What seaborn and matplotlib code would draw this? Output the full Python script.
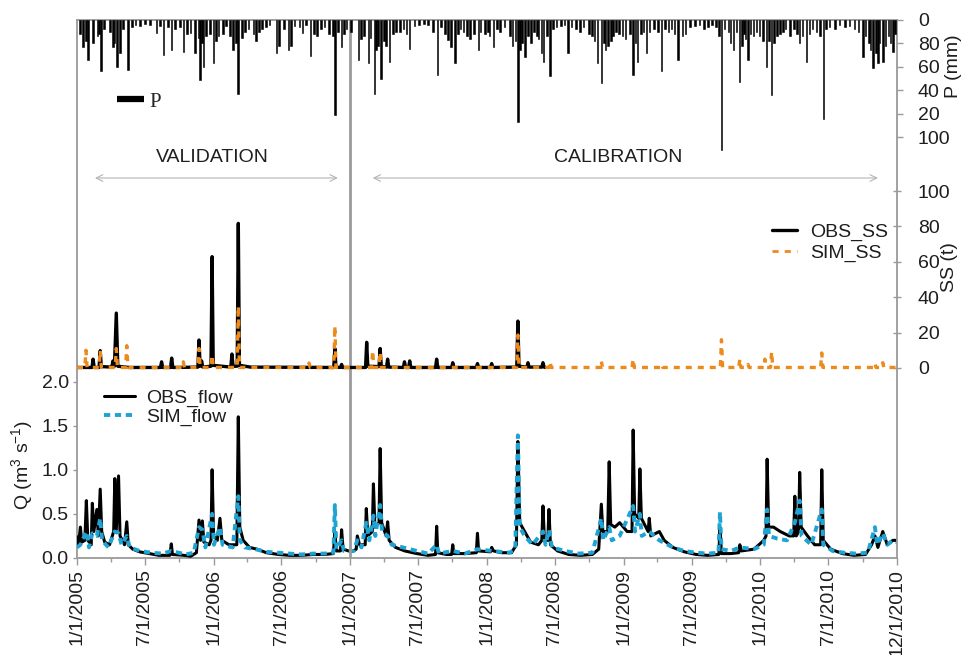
import pandas as pd
import matplotlib
matplotlib.use("Agg")
import matplotlib.pyplot as plt
import matplotlib.dates as mdates
from matplotlib.lines import Line2D
import seaborn as sns

# ---------------- data ----------------
# daily precipitation (mm)
p_dates = [
    "2005-01-09", "2005-01-17", "2005-01-25", "2005-01-30", "2005-02-13", "2005-02-24", "2005-03-01",
    "2005-03-06", "2005-03-14", "2005-03-30", "2005-04-07", "2005-04-12", "2005-04-18", "2005-04-26",
    "2005-05-04", "2005-05-17", "2005-05-28", "2005-06-07", "2005-06-18", "2005-07-02", "2005-07-15",
    "2005-08-02", "2005-08-11", "2005-08-21", "2005-09-01", "2005-09-11", "2005-09-20", "2005-10-03",
    "2005-10-12", "2005-10-22", "2005-11-01", "2005-11-12", "2005-11-21", "2005-11-26", "2005-12-01",
    "2005-12-05", "2005-12-12", "2005-12-22", "2005-12-31", "2006-01-07", "2006-01-15", "2006-01-26",
    "2006-02-03", "2006-02-14", "2006-02-22", "2006-03-02", "2006-03-07", "2006-03-18", "2006-03-26",
    "2006-04-05", "2006-04-17", "2006-04-24", "2006-05-02", "2006-05-10", "2006-05-21", "2006-05-31",
    "2006-06-18", "2006-06-25", "2006-07-08", "2006-07-20", "2006-07-27", "2006-08-06", "2006-08-19",
    "2006-08-27", "2006-09-05", "2006-09-16", "2006-09-26", "2006-10-04", "2006-10-15", "2006-10-25",
    "2006-11-05", "2006-11-16", "2006-11-21", "2006-11-29", "2006-12-09", "2006-12-15", "2006-12-23",
    "2007-01-03", "2007-01-23", "2007-01-30", "2007-02-07", "2007-02-18", "2007-02-25", "2007-03-06",
    "2007-03-11", "2007-03-16", "2007-03-24", "2007-04-01", "2007-04-07", "2007-04-16", "2007-04-25",
    "2007-05-03", "2007-05-14", "2007-05-24", "2007-06-01", "2007-06-09", "2007-06-21", "2007-07-04",
    "2007-07-17", "2007-07-28", "2007-08-10", "2007-08-22", "2007-09-01", "2007-09-11", "2007-09-19",
    "2007-09-27", "2007-10-08", "2007-10-16", "2007-10-23", "2007-10-31", "2007-11-09", "2007-11-17",
    "2007-11-28", "2007-12-09", "2007-12-16", "2007-12-27", "2008-01-04", "2008-01-09", "2008-01-19",
    "2008-01-28", "2008-02-05", "2008-02-18", "2008-03-03", "2008-03-10", "2008-03-18", "2008-03-24",
    "2008-03-30", "2008-04-04", "2008-04-12", "2008-04-20", "2008-04-28", "2008-05-06", "2008-05-14",
    "2008-05-19", "2008-05-26", "2008-06-01", "2008-06-10", "2008-06-18", "2008-06-26", "2008-07-06",
    "2008-07-17", "2008-07-27", "2008-08-05", "2008-08-15", "2008-08-26", "2008-09-06", "2008-09-16",
    "2008-09-30", "2008-10-08", "2008-10-15", "2008-10-23", "2008-11-03", "2008-11-09", "2008-11-14",
    "2008-11-20", "2008-11-28", "2008-12-03", "2008-12-11", "2008-12-19", "2008-12-29", "2009-01-06",
    "2009-01-18", "2009-01-26", "2009-02-02", "2009-02-07", "2009-02-16", "2009-02-23", "2009-03-03",
    "2009-03-11", "2009-03-23", "2009-04-02", "2009-04-12", "2009-04-21", "2009-05-01", "2009-05-09",
    "2009-05-17", "2009-05-26", "2009-06-06", "2009-06-14", "2009-06-27", "2009-07-10", "2009-07-23",
    "2009-08-03", "2009-08-14", "2009-08-25", "2009-09-04", "2009-09-12", "2009-09-19", "2009-09-28",
    "2009-10-08", "2009-10-14", "2009-10-21", "2009-10-30", "2009-11-07", "2009-11-13", "2009-11-18",
    "2009-11-23", "2009-11-29", "2009-12-06", "2009-12-14", "2009-12-22", "2009-12-30", "2010-01-08",
    "2010-01-18", "2010-01-24", "2010-01-31", "2010-02-06", "2010-02-14", "2010-02-22", "2010-03-02",
    "2010-03-09", "2010-03-21", "2010-04-01", "2010-04-09", "2010-04-16", "2010-04-24", "2010-05-04",
    "2010-05-13", "2010-05-21", "2010-05-30", "2010-06-09", "2010-06-18", "2010-06-25", "2010-07-05",
    "2010-07-19", "2010-08-01", "2010-08-15", "2010-08-28", "2010-09-10", "2010-09-21", "2010-10-02",
    "2010-10-09", "2010-10-18", "2010-10-23", "2010-10-29", "2010-11-06", "2010-11-11", "2010-11-16",
    "2010-11-25", "2010-12-02", "2010-12-10", "2010-12-15", "2010-12-21", "2010-12-27",
]
p_mm = [
    12, 23, 18, 34, 20, 14, 12,
    44, 8, 10, 23, 20, 40, 28,
    8, 43, 6, 4, 5, 3, 4,
    11, 5, 30, 6, 26, 8, 6,
    27, 12, 11, 28, 15, 51, 20,
    40, 14, 12, 37, 18, 14, 12,
    5, 14, 26, 20, 63, 15, 10,
    8, 12, 18, 10, 8, 6, 4,
    28, 22, 8, 26, 22, 5, 6,
    11, 4, 31, 12, 14, 8, 6,
    12, 14, 81, 10, 23, 12, 8,
    10, 34, 16, 14, 37, 15, 63,
    26, 22, 50, 18, 22, 36, 12,
    10, 10, 8, 12, 25, 5, 4,
    3, 4, 10, 47, 6, 12, 17,
    23, 37, 12, 8, 10, 14, 16,
    12, 26, 10, 12, 10, 14, 23,
    8, 10, 6, 14, 22, 18, 87,
    26, 20, 32, 14, 20, 10, 14,
    16, 28, 36, 14, 48, 8, 6,
    5, 4, 28, 6, 8, 10, 6,
    12, 14, 18, 37, 54, 20, 26,
    22, 18, 14, 10, 12, 14, 16,
    12, 47, 20, 36, 12, 10, 28,
    10, 8, 10, 44, 8, 10, 8,
    12, 34, 14, 12, 6, 5, 4,
    8, 6, 4, 6, 14, 111, 8,
    10, 20, 26, 10, 53, 22, 12,
    16, 34, 12, 14, 10, 14, 18,
    40, 18, 64, 20, 14, 12, 10,
    8, 14, 8, 12, 20, 14, 36,
    12, 8, 10, 14, 85, 8, 6,
    8, 4, 6, 5, 8, 10, 32,
    14, 20, 26, 41, 28, 37, 20,
    36, 22, 14, 20, 27, 12,
]

# suspended sediment (t)
ss_obs_dates = [
    "2005-01-01", "2005-02-10", "2005-02-13", "2005-02-16", "2005-03-01", "2005-03-04", "2005-03-07",
    "2005-04-04", "2005-04-07", "2005-04-11", "2005-04-16", "2005-04-20", "2005-05-20", "2005-08-12",
    "2005-08-15", "2005-08-18", "2005-09-08", "2005-09-11", "2005-09-14", "2005-11-20", "2005-11-23",
    "2005-11-26", "2005-11-30", "2005-12-03", "2005-12-25", "2005-12-28", "2005-12-31", "2006-02-16",
    "2006-02-19", "2006-02-22", "2006-03-05", "2006-03-08", "2006-03-11", "2006-04-10", "2006-11-18",
    "2006-11-21", "2006-11-24", "2006-12-06", "2006-12-09", "2006-12-12", "2007-02-11", "2007-02-14",
    "2007-02-17", "2007-03-19", "2007-03-22", "2007-03-25", "2007-04-08", "2007-04-11", "2007-04-14",
    "2007-05-23", "2007-05-26", "2007-05-29", "2007-06-06", "2007-06-09", "2007-06-12", "2007-08-17",
    "2007-08-20", "2007-08-23", "2007-09-29", "2007-10-02", "2007-10-05", "2007-12-04", "2007-12-07",
    "2007-12-10", "2008-01-11", "2008-01-14", "2008-01-17", "2008-03-21", "2008-03-24", "2008-03-27",
    "2008-04-17", "2008-04-20", "2008-04-23", "2008-05-27", "2008-05-30", "2008-06-02", "2008-06-05",
]
ss_obs_t = [
    0.3, 0.3, 5, 0.3, 0.3, 9.8, 0.8,
    0.5, 4, 1, 31, 1, 0.3, 0.3,
    3.5, 0.3, 0.3, 5.6, 0.3, 0.5, 15.8,
    1, 4, 0.5, 1, 62.9, 1.5, 0.5,
    7.9, 1, 1, 81.7, 1.5, 0.5, 0.3,
    11, 0.5, 0.3, 2, 0.3, 0.3, 14.5,
    1, 0.8, 11, 1, 0.5, 5, 0.5,
    0.3, 3.5, 0.3, 0.3, 4, 0.3, 0.3,
    5, 0.3, 0.3, 3, 0.3, 0.3, 2.5,
    0.3, 0.3, 2.5, 0.3, 0.5, 26.5, 1,
    0.5, 3, 0.5, 0.5, 3, 0.5, 0.3,
]
ss_sim_dates = [
    "2005-01-01", "2005-01-22", "2005-01-25", "2005-01-28", "2005-03-01", "2005-03-04", "2005-03-07",
    "2005-04-13", "2005-04-16", "2005-04-19", "2005-05-11", "2005-05-14", "2005-05-17", "2005-10-09",
    "2005-10-12", "2005-10-15", "2005-11-20", "2005-11-23", "2005-11-26", "2005-12-25", "2005-12-28",
    "2005-12-31", "2006-03-05", "2006-03-08", "2006-03-11", "2006-09-10", "2006-09-13", "2006-09-16",
    "2006-11-18", "2006-11-21", "2006-11-24", "2007-02-27", "2007-03-02", "2007-03-05", "2007-03-19",
    "2007-03-22", "2007-03-25", "2008-03-21", "2008-03-24", "2008-03-27", "2008-06-15", "2008-06-18",
    "2008-06-21", "2008-10-30", "2008-11-02", "2008-11-05", "2009-01-23", "2009-01-26", "2009-01-29",
    "2009-04-09", "2009-04-12", "2009-04-15", "2009-09-16", "2009-09-19", "2009-09-22", "2009-11-04",
    "2009-11-07", "2009-11-10", "2009-11-26", "2009-11-29", "2009-12-02", "2010-01-10", "2010-01-13",
    "2010-01-16", "2010-01-28", "2010-01-31", "2010-02-03", "2010-06-11", "2010-06-14", "2010-06-17",
    "2010-10-31", "2010-11-03", "2010-11-06", "2010-11-21", "2010-11-24", "2010-11-27", "2010-12-31",
]
ss_sim_t = [
    0.3, 0.3, 10, 0.3, 0.3, 10, 0.3,
    0.3, 11, 0.3, 0.3, 12.6, 0.3, 0.3,
    3.5, 0.3, 0.3, 11, 0.3, 0.3, 7.3,
    0.3, 0.3, 35, 0.3, 0.3, 2.8, 0.3,
    0.3, 23.7, 0.3, 0.3, 9.8, 0.3, 0.3,
    9, 0.3, 0.3, 18.6, 0.3, 0.3, 3.6,
    0.3, 0.3, 4, 0.3, 0.3, 5, 0.3,
    0.3, 2, 0.3, 0.3, 16, 0.3, 0.3,
    5, 0.3, 0.3, 2, 0.3, 0.3, 5,
    0.3, 0.3, 9.2, 0.3, 0.3, 8.5, 0.3,
    0.3, 2.5, 0.3, 0.3, 3, 0.3, 0.3,
]

# streamflow (m3/s)
q_obs_dates = [
    "2005-01-01", "2005-01-05", "2005-01-10", "2005-01-14", "2005-01-22", "2005-01-26", "2005-01-30",
    "2005-02-08", "2005-02-11", "2005-02-15", "2005-02-23", "2005-02-27", "2005-03-04", "2005-03-08",
    "2005-03-16", "2005-03-29", "2005-04-09", "2005-04-12", "2005-04-16", "2005-04-22", "2005-04-26",
    "2005-05-08", "2005-05-14", "2005-05-18", "2005-05-30", "2005-06-17", "2005-07-13", "2005-08-08",
    "2005-09-06", "2005-09-10", "2005-09-13", "2005-10-14", "2005-11-01", "2005-11-16", "2005-11-23",
    "2005-11-27", "2005-12-02", "2005-12-06", "2005-12-20", "2005-12-25", "2005-12-28", "2006-01-01",
    "2006-01-11", "2006-01-18", "2006-01-23", "2006-02-11", "2006-03-04", "2006-03-08", "2006-03-12",
    "2006-03-21", "2006-04-07", "2006-04-27", "2006-05-22", "2006-06-23", "2006-07-23", "2006-08-23",
    "2006-09-24", "2006-10-24", "2006-11-17", "2006-11-21", "2006-11-25", "2006-12-06", "2006-12-09",
    "2006-12-13", "2006-12-28", "2007-01-10", "2007-01-17", "2007-01-20", "2007-01-26", "2007-02-10",
    "2007-02-13", "2007-02-17", "2007-03-01", "2007-03-04", "2007-03-08", "2007-03-19", "2007-03-22",
    "2007-03-26", "2007-04-07", "2007-04-11", "2007-04-15", "2007-05-02", "2007-05-27", "2007-06-28",
    "2007-07-28", "2007-08-17", "2007-08-20", "2007-08-23", "2007-09-15", "2007-09-29", "2007-10-02",
    "2007-10-05", "2007-11-03", "2007-12-04", "2007-12-07", "2007-12-10", "2008-01-11", "2008-01-14",
    "2008-01-19", "2008-02-10", "2008-03-07", "2008-03-20", "2008-03-24", "2008-03-29", "2008-04-11",
    "2008-04-27", "2008-05-18", "2008-05-27", "2008-05-30", "2008-06-03", "2008-06-12", "2008-06-15",
    "2008-06-19", "2008-07-08", "2008-08-07", "2008-09-08", "2008-10-09", "2008-10-26", "2008-11-02",
    "2008-11-06", "2008-11-19", "2008-11-23", "2008-11-27", "2008-12-08", "2008-12-21", "2009-01-10",
    "2009-01-23", "2009-01-26", "2009-01-30", "2009-02-10", "2009-02-13", "2009-02-17", "2009-03-07",
    "2009-03-10", "2009-03-14", "2009-04-06", "2009-04-19", "2009-05-12", "2009-06-12", "2009-07-13",
    "2009-08-13", "2009-09-12", "2009-09-15", "2009-09-19", "2009-10-14", "2009-11-04", "2009-11-07",
    "2009-11-11", "2009-12-15", "2010-01-10", "2010-01-16", "2010-01-19", "2010-01-23", "2010-02-05",
    "2010-02-23", "2010-03-19", "2010-03-31", "2010-04-03", "2010-04-07", "2010-04-13", "2010-04-16",
    "2010-04-20", "2010-05-07", "2010-05-26", "2010-06-11", "2010-06-14", "2010-06-18", "2010-07-08",
    "2010-08-08", "2010-09-08", "2010-10-09", "2010-10-25", "2010-11-03", "2010-11-11", "2010-11-24",
    "2010-12-06", "2010-12-21", "2011-01-01",
]
q_obs = [
    0.24, 0.15, 0.35, 0.18, 0.2, 0.65, 0.2,
    0.15, 0.62, 0.3, 0.55, 0.25, 0.78, 0.3,
    0.18, 0.15, 0.3, 0.90, 0.32, 0.93, 0.25,
    0.15, 0.41, 0.15, 0.1, 0.07, 0.05, 0.03,
    0.03, 0.16, 0.04, 0.03, 0.02, 0.06, 0.43,
    0.2, 0.42, 0.18, 0.15, 0.2, 1.0, 0.25,
    0.2, 0.45, 0.2, 0.15, 0.15, 1.6, 0.35,
    0.2, 0.12, 0.1, 0.06, 0.04, 0.03, 0.03,
    0.04, 0.04, 0.05, 0.3, 0.08, 0.08, 0.32,
    0.1, 0.08, 0.08, 0.1, 0.25, 0.15, 0.15,
    0.56, 0.25, 0.3, 0.84, 0.35, 0.4, 1.24,
    0.4, 0.25, 0.41, 0.2, 0.12, 0.08, 0.05,
    0.03, 0.04, 0.36, 0.06, 0.04, 0.04, 0.15,
    0.05, 0.05, 0.06, 0.28, 0.08, 0.07, 0.12,
    0.08, 0.06, 0.06, 0.15, 1.32, 0.4, 0.3,
    0.18, 0.15, 0.2, 0.59, 0.2, 0.2, 0.55,
    0.15, 0.08, 0.04, 0.03, 0.04, 0.1, 0.61,
    0.3, 0.3, 1.09, 0.38, 0.35, 0.4, 0.3,
    0.3, 1.45, 0.5, 0.45, 1.01, 0.45, 0.3,
    0.45, 0.25, 0.3, 0.2, 0.12, 0.07, 0.04,
    0.03, 0.04, 0.35, 0.05, 0.05, 0.06, 0.15,
    0.08, 0.1, 0.2, 0.25, 1.12, 0.35, 0.35,
    0.3, 0.25, 0.25, 0.7, 0.25, 0.3, 0.97,
    0.35, 0.25, 0.15, 0.15, 1.0, 0.2, 0.1,
    0.05, 0.03, 0.04, 0.15, 0.25, 0.12, 0.3,
    0.15, 0.2, 0.2,
]
q_sim_dates = [
    "2005-01-01", "2005-01-10", "2005-01-26", "2005-02-02", "2005-02-11", "2005-02-23", "2005-03-04",
    "2005-03-09", "2005-03-26", "2005-04-12", "2005-04-22", "2005-04-30", "2005-05-14", "2005-05-22",
    "2005-06-17", "2005-07-18", "2005-08-18", "2005-09-10", "2005-10-19", "2005-11-09", "2005-11-23",
    "2005-12-02", "2005-12-10", "2005-12-28", "2006-01-02", "2006-01-18", "2006-01-25", "2006-02-21",
    "2006-03-08", "2006-03-12", "2006-03-26", "2006-04-22", "2006-05-22", "2006-06-23", "2006-07-23",
    "2006-08-23", "2006-09-24", "2006-10-24", "2006-11-17", "2006-11-21", "2006-11-25", "2006-12-09",
    "2006-12-15", "2007-01-10", "2007-01-20", "2007-01-31", "2007-02-13", "2007-02-21", "2007-03-04",
    "2007-03-09", "2007-03-22", "2007-03-27", "2007-04-11", "2007-04-22", "2007-05-22", "2007-06-28",
    "2007-07-28", "2007-08-20", "2007-08-26", "2007-10-02", "2007-11-03", "2007-12-07", "2008-01-14",
    "2008-03-02", "2008-03-17", "2008-03-24", "2008-03-29", "2008-04-11", "2008-05-02", "2008-05-30",
    "2008-06-06", "2008-06-15", "2008-06-23", "2008-07-28", "2008-09-03", "2008-10-09", "2008-11-02",
    "2008-11-07", "2008-11-23", "2008-11-30", "2008-12-21", "2009-01-26", "2009-01-31", "2009-02-13",
    "2009-02-18", "2009-03-10", "2009-04-06", "2009-05-12", "2009-06-12", "2009-07-13", "2009-08-13",
    "2009-09-11", "2009-09-15", "2009-09-19", "2009-10-14", "2009-11-07", "2009-12-15", "2010-01-10",
    "2010-01-19", "2010-01-24", "2010-02-15", "2010-03-13", "2010-04-03", "2010-04-16", "2010-04-21",
    "2010-05-17", "2010-06-14", "2010-06-18", "2010-07-13", "2010-08-13", "2010-09-13", "2010-10-15",
    "2010-11-03", "2010-11-09", "2010-11-24", "2010-12-06", "2010-12-21", "2011-01-01",
]
q_sim = [
    0.12, 0.15, 0.3, 0.12, 0.28, 0.25, 0.45,
    0.2, 0.12, 0.3, 0.28, 0.15, 0.25, 0.12,
    0.08, 0.06, 0.05, 0.08, 0.04, 0.06, 0.35,
    0.32, 0.12, 0.5, 0.15, 0.35, 0.15, 0.12,
    0.7, 0.2, 0.12, 0.1, 0.07, 0.06, 0.05,
    0.04, 0.05, 0.05, 0.06, 0.6, 0.1, 0.2,
    0.08, 0.08, 0.2, 0.12, 0.4, 0.2, 0.48,
    0.25, 0.6, 0.3, 0.25, 0.15, 0.12, 0.08,
    0.05, 0.15, 0.05, 0.08, 0.05, 0.1, 0.08,
    0.06, 0.1, 1.39, 0.35, 0.25, 0.15, 0.3,
    0.15, 0.32, 0.12, 0.08, 0.05, 0.06, 0.45,
    0.2, 0.35, 0.2, 0.25, 0.59, 0.3, 0.5,
    0.25, 0.3, 0.2, 0.12, 0.08, 0.06, 0.05,
    0.06, 0.52, 0.1, 0.08, 0.12, 0.1, 0.15,
    0.55, 0.25, 0.22, 0.2, 0.4, 0.65, 0.25,
    0.15, 0.55, 0.15, 0.08, 0.06, 0.05, 0.06,
    0.35, 0.15, 0.28, 0.15, 0.2, 0.18,
]

# axis ticks
x_tick_dates = ["2005-01-01", "2005-07-01", "2006-01-01", "2006-07-01", "2007-01-01", "2007-07-01",
                "2008-01-01", "2008-07-01", "2009-01-01", "2009-07-01", "2010-01-01", "2010-07-01",
                "2011-01-01"]
x_tick_labels = ["1/1/2005", "7/1/2005", "1/1/2006", "7/1/2006", "1/1/2007", "7/1/2007",
                 "1/1/2008", "7/1/2008", "1/1/2009", "7/1/2009", "1/1/2010", "7/1/2010",
                 "12/1/2010"]
x_minor_dates = ["2005-04-01", "2005-10-01", "2006-04-01", "2006-10-01", "2007-04-01", "2007-10-01",
                 "2008-04-01", "2008-10-01", "2009-04-01", "2009-10-01", "2010-04-01", "2010-10-01"]
q_ticks = [0.0, 0.5, 1.0, 1.5, 2.0]
ss_ticks = [0, 20, 40, 60, 80, 100]
p_ticks = [0, 20, 40, 60, 80, 100]
p_tick_labels = ["0", "80", "60", "40", "20", "100"]

# ---------------- style ----------------
sns.set_style("white")
plt.rcParams["font.family"] = ["Liberation Sans", "DejaVu Sans"]
plt.rcParams["mathtext.default"] = "regular"

GREY = "#9a9a9a"
TXT = "#1e1e1e"
ORANGE = "#ec8a1c"
CYAN = "#1fa3d3"
FS = 14

W, H = 968, 655
fig = plt.figure(figsize=(W / 100, H / 100), dpi=100)
left, right, top, bottom = 77, 897, 20, 558
ax = fig.add_axes([left / W, (H - bottom) / H, (right - left) / W, (bottom - top) / H])
ax_ss = ax.twinx()
ax_p = ax.twinx()
for a in (ax_ss, ax_p):
    a.patch.set_visible(False)

to_dt = pd.to_datetime

# streamflow
sns.lineplot(x=to_dt(q_obs_dates), y=q_obs, ax=ax, color="black", lw=2.2, zorder=3)
sns.lineplot(x=to_dt(q_sim_dates), y=q_sim, ax=ax, color=CYAN, lw=2.8,
             linestyle=(0, (1.6, 1.2)), zorder=4)

# suspended sediment
sns.lineplot(x=to_dt(ss_obs_dates), y=ss_obs_t, ax=ax_ss, color="black", lw=2.4, zorder=3)
sns.lineplot(x=to_dt(ss_sim_dates), y=ss_sim_t, ax=ax_ss, color=ORANGE, lw=2.4,
             linestyle=(0, (1.8, 1.8)), zorder=4)

# precipitation hanging from the top
ax_p.bar(to_dt(p_dates), p_mm, width=3.5, color="black", edgecolor="black", lw=0.4)

# ---------------- scales ----------------
x0, x1 = to_dt("2005-01-01"), to_dt("2011-01-01")
for a in (ax, ax_ss, ax_p):
    a.set_xlim(x0, x1)
    a.set_xlabel("")
    a.set_ylabel("")

q_px = 88.25
ax.set_ylim(0, (bottom - top) / q_px)
ss_zero, ss_px = 368, 1.77
ax_ss.set_ylim(-(bottom - ss_zero) / ss_px, (ss_zero - top) / ss_px)
p_px = 1.17
ax_p.set_ylim((bottom - top) / p_px, 0)

ax.set_yticks(q_ticks)
ax.set_yticklabels([f"{v:.1f}" for v in q_ticks])
ax_ss.set_yticks(ss_ticks)
ax_ss.set_yticklabels([str(v) for v in ss_ticks])
ax_p.set_yticks(p_ticks)
ax_p.set_yticklabels(p_tick_labels)

ax.set_xticks(to_dt(x_tick_dates))
ax.set_xticklabels(x_tick_labels, rotation=90)
ax.set_xticks(to_dt(x_minor_dates), minor=True)

ax.tick_params(axis="x", which="major", direction="out", length=5, width=1, color=GREY,
               labelsize=FS, labelcolor=TXT, pad=3, bottom=True)
ax.tick_params(axis="x", which="minor", direction="out", length=3, width=1, color=GREY, bottom=True)
ax.tick_params(axis="y", direction="out", length=3, width=1, color=GREY, labelsize=FS,
               labelcolor=TXT, pad=3, left=True)
ax_ss.tick_params(axis="y", direction="inout", length=6, width=1, color=GREY, labelsize=FS,
                  labelcolor=TXT, pad=12, right=True)
ax_p.tick_params(axis="y", direction="out", length=4, width=1, color=GREY, labelsize=FS,
                 labelcolor=TXT, pad=11, right=True)
for a in (ax_ss, ax_p):
    a.tick_params(axis="x", which="both", bottom=False, labelbottom=False)

for name, sp in ax.spines.items():
    sp.set_color(GREY)
    sp.set_linewidth(1.3)
    sp.set_visible(name != "right")
for name, sp in ax_ss.spines.items():
    sp.set_color(GREY)
    sp.set_linewidth(1.3)
    sp.set_visible(name == "right")
for sp in ax_p.spines.values():
    sp.set_visible(False)

# period split
ax.axvline(to_dt("2007-01-01"), color=GREY, lw=2, zorder=5)

# period labels and arrows
num = mdates.date2num
arrow_y = (bottom - 178) / (bottom - top)
text_y = (bottom - 157) / (bottom - top)
for a_start, a_end in (("2005-02-18", "2006-11-29"), ("2007-03-02", "2010-11-11")):
    ax.annotate("", xy=(num(to_dt(a_end)), arrow_y), xytext=(num(to_dt(a_start)), arrow_y),
                xycoords=("data", "axes fraction"), textcoords=("data", "axes fraction"),
                arrowprops=dict(arrowstyle="<->", color="#b4b4b4", lw=0.8,
                                shrinkA=0, shrinkB=0, mutation_scale=12))
ax.text(num(to_dt("2005-12-29")), text_y, "VALIDATION", transform=ax.get_xaxis_transform(),
        ha="center", va="center", fontsize=FS, color=TXT)
ax.text(num(to_dt("2008-12-16")), text_y, "CALIBRATION", transform=ax.get_xaxis_transform(),
        ha="center", va="center", fontsize=FS, color=TXT)

# axis titles
fig.text(22 / W, 1 - 465 / H, "Q (m$^3$ s$^{-1}$)", rotation=90, ha="center", va="center",
         fontsize=FS, color=TXT)
fig.text(950 / W, 1 - 267 / H, "SS (t)", rotation=90, ha="center", va="center",
         fontsize=FS, color=TXT)
fig.text(954 / W, 1 - 66 / H, "P (mm)", rotation=90, ha="center", va="center",
         fontsize=FS, color=TXT)

# legends
leg_q = fig.legend(
    handles=[Line2D([], [], color="black", lw=2.2),
             Line2D([], [], color=CYAN, lw=2.8, linestyle=(0, (1.6, 1.2)))],
    labels=["OBS_flow", "SIM_flow"], loc="upper left",
    bbox_to_anchor=(104 / W, 1 - 389 / H), frameon=False, fontsize=FS,
    handlelength=1.6, handletextpad=0.55, labelspacing=0.05, borderpad=0, borderaxespad=0)
for t in leg_q.get_texts():
    t.set_color(TXT)
leg_ss = fig.legend(
    handles=[Line2D([], [], color="black", lw=2.4),
             Line2D([], [], color=ORANGE, lw=2.0, linestyle=(0, (2.2, 2.2)))],
    labels=["OBS_SS", "SIM_SS"], loc="upper left",
    bbox_to_anchor=(772 / W, 1 - 223 / H), frameon=False, fontsize=FS,
    handlelength=1.3, handletextpad=0.65, labelspacing=0.15, borderpad=0, borderaxespad=0)
for t in leg_ss.get_texts():
    t.set_color(TXT)
leg_p = fig.legend(
    handles=[Line2D([], [], color="black", lw=4.5, solid_capstyle="butt")],
    labels=["P"], loc="upper left", bbox_to_anchor=(117 / W, 1 - 92 / H), frameon=False,
    prop={"family": ["Liberation Serif", "DejaVu Serif"], "size": 15},
    handlelength=1.3, handletextpad=0.25, borderpad=0, borderaxespad=0)

fig.savefig("out.png", dpi=100)
